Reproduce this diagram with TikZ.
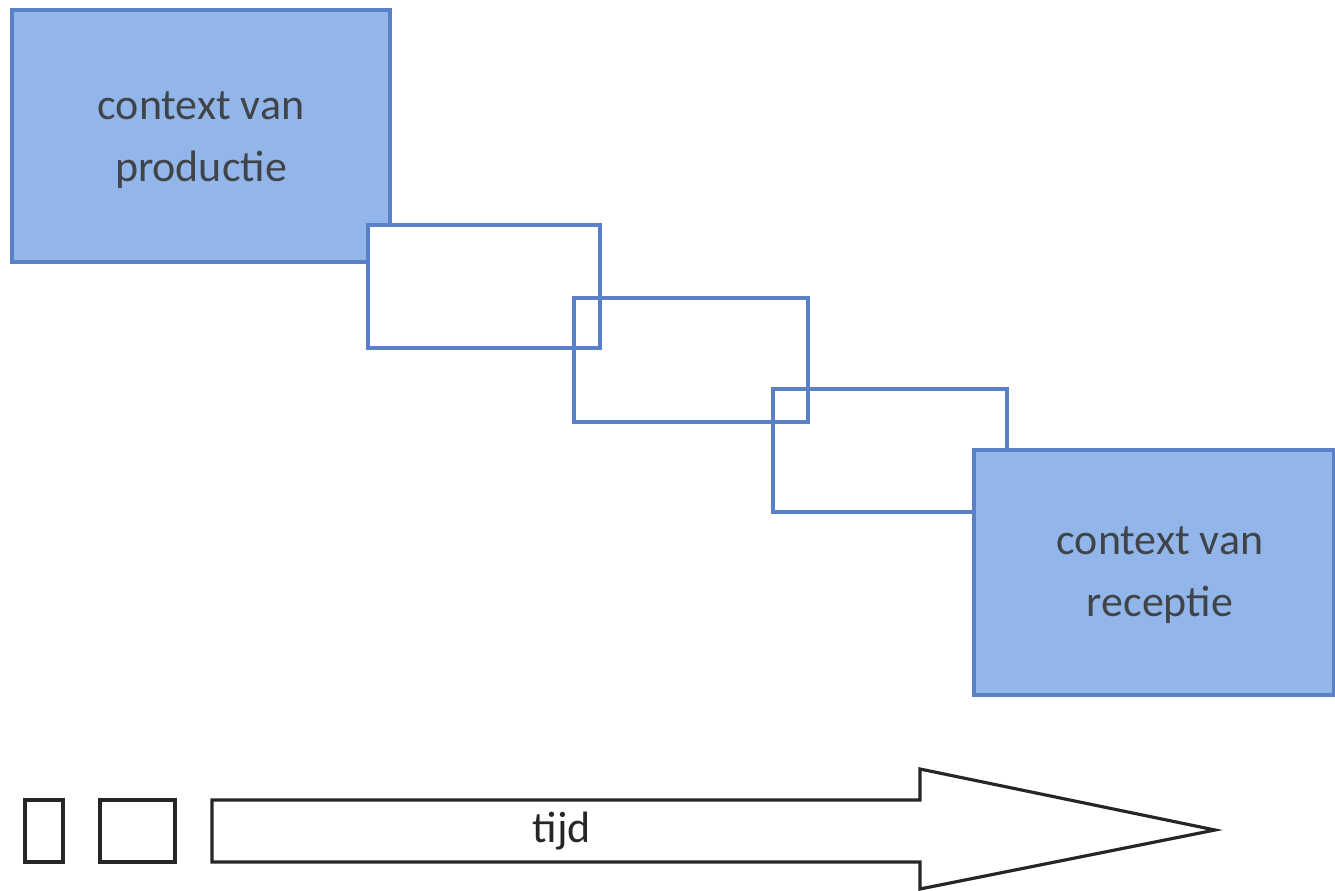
\documentclass[tikz,border=0pt]{standalone}
\usepackage{fontspec}
\setmainfont{Carlito}
\usepackage{tikz}

\definecolor{ctxfill}{HTML}{93B6EA}
\definecolor{ctxline}{HTML}{5A80C8}
\definecolor{ctxtext}{HTML}{404448}

\tikzset{
  ctxbox/.style={draw=ctxline, line width=1.1pt, fill=ctxfill, inner sep=0pt,
    text=ctxtext, align=center, font=\fontsize{12.5}{17.8}\selectfont},
  stagebox/.style={draw=ctxline, line width=1.1pt, inner sep=0pt},
  timebox/.style={draw=black!85, line width=0.9pt, inner sep=0pt, fill=white}
}

\begin{document}
\begin{tikzpicture}
    \useasboundingbox (0,0) rectangle (13.35,-8.91);
    % contexten en tussenstappen
    \node[ctxbox, minimum width=3.78cm, minimum height=2.52cm] (prod) at (2.01,-1.36) {};
    \node[ctxtext, align=center, font=\fontsize{12.5}{17.8}\selectfont] (prodtxt) at (2.01,-1.40) {context van\\productie};
    \node[stagebox, fill=white, minimum width=2.32cm, minimum height=1.23cm] (s1) at (4.84,-2.865) {};
    \node[stagebox, minimum width=2.34cm, minimum height=1.24cm] (s2) at (6.91,-3.60) {};
    \node[stagebox, minimum width=2.34cm, minimum height=1.23cm] (s3) at (8.90,-4.505) {};
    \node[ctxbox, minimum width=3.60cm, minimum height=2.45cm] (rec) at (11.54,-5.725) {};
    \node[ctxtext, align=center, font=\fontsize{12.5}{17.8}\selectfont] (rectxt) at (11.60,-5.75) {context van\\receptie};
    % tijdlijn
    \node[timebox, minimum width=0.38cm, minimum height=0.62cm] (t1) at (0.44,-8.31) {};
    \node[timebox, minimum width=0.75cm, minimum height=0.62cm] (t2) at (1.375,-8.31) {};
    \draw[black!85, line width=0.9pt, line join=miter]
        (2.12,-8.00) -- (9.20,-8.00) -- (9.20,-7.69) -- (12.15,-8.30)
        -- (9.20,-8.89) -- (9.20,-8.62) -- (2.12,-8.62) -- cycle;
    \node[font=\fontsize{12.5}{14}\selectfont, text=black!85] (tijd) at (5.62,-8.31) {tijd};
\end{tikzpicture}
\end{document}
